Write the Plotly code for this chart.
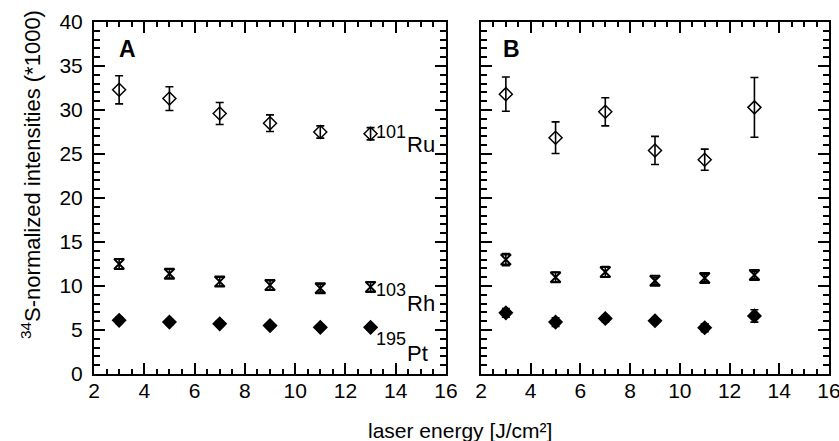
import plotly.graph_objects as go

energy = [3, 5, 7, 9, 11, 13]

# Panel A
ru_a = [32.3, 31.3, 29.6, 28.5, 27.5, 27.3]
ru_a_err = [1.6, 1.35, 1.25, 0.95, 0.7, 0.7]
rh_a = [12.5, 11.4, 10.5, 10.1, 9.75, 9.9]
rh_a_err = [0.6, 0.5, 0.5, 0.5, 0.45, 0.5]
pt_a = [6.1, 5.9, 5.7, 5.5, 5.3, 5.3]
pt_a_err = [0.35, 0.3, 0.3, 0.3, 0.3, 0.3]

# Panel B
ru_b = [31.8, 26.85, 29.8, 25.4, 24.35, 30.3]
ru_b_err = [1.95, 1.8, 1.6, 1.6, 1.2, 3.4]
rh_b = [13.0, 11.0, 11.6, 10.6, 10.9, 11.25]
rh_b_err = [0.7, 0.55, 0.6, 0.4, 0.4, 0.4]
pt_b = [6.95, 5.9, 6.3, 6.05, 5.25, 6.6]
pt_b_err = [0.5, 0.5, 0.35, 0.3, 0.45, 0.7]

x_ticks = [2, 4, 6, 8, 10, 12, 14, 16]
y_ticks = [0, 5, 10, 15, 20, 25, 30, 35, 40]

FONT = "Arial, Liberation Sans, sans-serif"
fig = go.Figure()

def add_series(y, err, symbol, size, fill, lw, xa, ya):
    fig.add_trace(go.Scatter(
        x=energy, y=y, mode="markers", xaxis=xa, yaxis=ya,
        marker=dict(symbol=symbol, size=size, color=fill,
                    line=dict(color="black", width=lw)),
        error_y=dict(type="data", array=err, visible=True, color="black",
                     thickness=1.6, width=4),
        showlegend=False, hoverinfo="skip"))

for (ru, rue, rh, rhe, pt, pte, xa, ya) in [
        (ru_a, ru_a_err, rh_a, rh_a_err, pt_a, pt_a_err, "x", "y"),
        (ru_b, ru_b_err, rh_b, rh_b_err, pt_b, pt_b_err, "x2", "y2")]:
    add_series(ru, rue, "diamond-open", 10, "black", 1.5, xa, ya)
    add_series(rh, rhe, "hourglass-open", 10, "black", 2, xa, ya)
    add_series(pt, pte, "diamond", 10, "black", 1.5, xa, ya)

axis_common = dict(
    showline=True, linecolor="black", linewidth=2, mirror="ticks",
    ticks="inside", ticklen=11, tickwidth=1.5, tickcolor="black",
    showgrid=False, zeroline=False, automargin=False,
    ticklabeloverflow="allow",
    tickfont=dict(family=FONT, size=21, color="black"),
)

xcommon = dict(axis_common, range=[2, 16], tickvals=x_ticks, ticklabelstandoff=-3,
               minor=dict(dtick=0.5, ticklen=5, tickwidth=1.5, ticks="inside",
                          tickcolor="black", showgrid=False))
ycommon = dict(axis_common, range=[0, 40], tickvals=y_ticks, ticklabelstandoff=5,
               minor=dict(dtick=1, ticklen=6, tickwidth=1.5, ticks="inside",
                          tickcolor="black", showgrid=False))

W, H = 839, 441
ydom = [1 - 374 / H, 1 - 22 / H]
fig.update_layout(
    width=W, height=H,
    margin=dict(l=0, r=0, t=0, b=0, autoexpand=False),
    paper_bgcolor="white", plot_bgcolor="white",
    xaxis=dict(xcommon, domain=[94 / W, 446 / W], anchor="y"),
    yaxis=dict(ycommon, domain=ydom, anchor="x"),
    xaxis2=dict(xcommon, domain=[481 / W, 829 / W], anchor="y2"),
    yaxis2=dict(ycommon, domain=ydom, anchor="x2", showticklabels=False),
    font=dict(family=FONT, color="black"),
)

ann = []
# panel letters
ann.append(dict(text="<b>A</b>", x=117 / W, y=1 - 49 / H, xref="paper", yref="paper",
                xanchor="left", yanchor="middle", showarrow=False,
                font=dict(family=FONT, size=23, color="black")))
ann.append(dict(text="<b>B</b>", x=501 / W, y=1 - 49 / H, xref="paper", yref="paper",
                xanchor="left", yanchor="middle", showarrow=False,
                font=dict(family=FONT, size=23, color="black")))
# isotope labels in panel A
labels = [("101", "Ru", ru_a[-1], 2, -11), ("103", "Rh", rh_a[-1], -3, -17),
          ("195", "Pt", pt_a[-1], -12, -26)]
for num, el, yv, dy1, dy2 in labels:
    ann.append(dict(text=num, x=energy[-1], y=yv, xref="x", yref="y",
                    xanchor="left", yanchor="middle", xshift=3, yshift=dy1,
                    showarrow=False, font=dict(family=FONT, size=18, color="black")))
    ann.append(dict(text=el, x=energy[-1], y=yv, xref="x", yref="y",
                    xanchor="left", yanchor="middle", xshift=34, yshift=dy2,
                    showarrow=False, font=dict(family=FONT, size=22, color="black")))
# axis titles
ann.append(dict(text="<sup>34</sup>S-normalized intensities (*1000)",
                x=31 / W, y=1 - 175 / H, xref="paper", yref="paper",
                xanchor="center", yanchor="middle", textangle=-90, showarrow=False,
                font=dict(family=FONT, size=22, color="black")))
ann.append(dict(text="laser energy [J/cm²]", x=460 / W, y=1 - 430 / H,
                xref="paper", yref="paper", xanchor="center", yanchor="middle",
                showarrow=False, font=dict(family=FONT, size=21, color="black")))
fig.update_layout(annotations=ann)

fig.write_html("out.html", config={"displayModeBar": False},
               post_script="document.body.style.margin='0';")
